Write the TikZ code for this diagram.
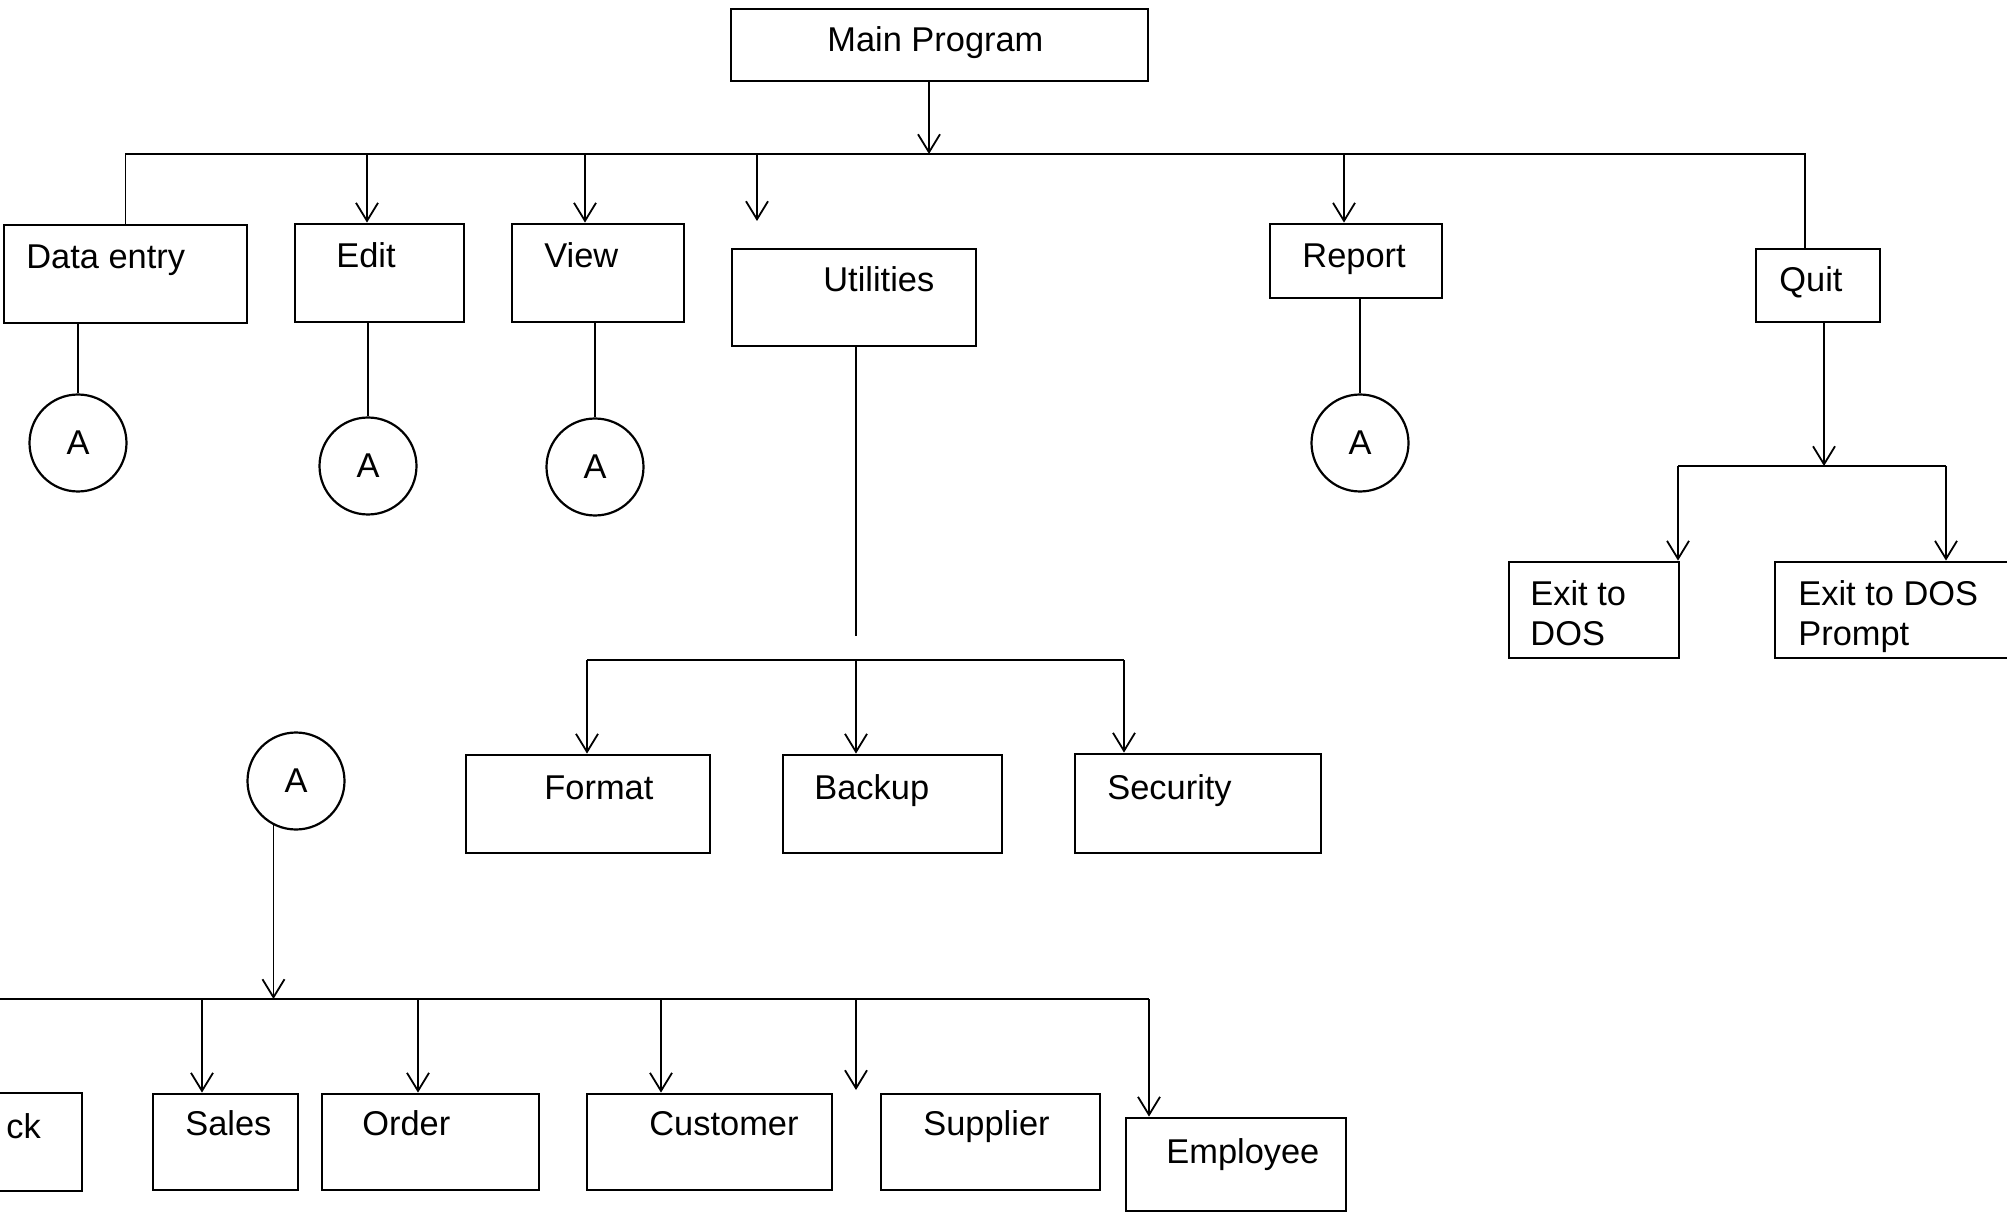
\documentclass[tikz,border=0pt]{standalone}
\usepackage{fontspec}
\setmainfont{Liberation Sans}
\usetikzlibrary{arrows.meta,fit}
\begin{document}
\begin{tikzpicture}[x=0.5pt,y=-0.5pt,
  box/.style={draw, line width=1.4pt, rectangle, inner sep=0pt},
  circ/.style={draw, line width=1.1pt, circle, minimum size=48.5pt, inner sep=0pt, font=\fontsize{17.2}{20}\selectfont},
  txt/.style={inner sep=0pt, font=\fontsize{17.2}{20}\selectfont, align=left},
  conn/.style={line width=0.9pt},
  arr/.style={conn, -{Straight Barb[length=9pt,width=11pt]}}]
\useasboundingbox (0,0) rectangle (2007,1213);
\clip (0,0) rectangle (2007,1213);
% boxes
\node[box, fit={(731,9) (1148,81)}] (main) {};
\node[box, fit={(4,225) (247,323)}] (dataentry) {};
\node[box, fit={(295,224) (464,322)}] (edit) {};
\node[box, fit={(512,224) (684,322)}] (view) {};
\node[box, fit={(732,249) (976,346)}] (utilities) {};
\node[box, fit={(1270,224) (1442,298)}] (report) {};
\node[box, fit={(1756,249) (1880,322)}] (quit) {};
\node[box, fit={(1509,562) (1679,658)}] (exit1) {};
\node[box, fit={(1775,562) (2100,658)}] (exit2) {};
\node[box, fit={(466,755) (710,853)}] (format) {};
\node[box, fit={(783,755) (1002,853)}] (backup) {};
\node[box, fit={(1075,754) (1321,853)}] (security) {};
\node[box, fit={(-200,1093) (82,1191)}] (stock) {};
\node[box, fit={(153,1094) (298,1190)}] (sales) {};
\node[box, fit={(322,1094) (539,1190)}] (order) {};
\node[box, fit={(587,1094) (832,1190)}] (customer) {};
\node[box, fit={(881,1094) (1100,1190)}] (supplier) {};
\node[box, fit={(1126,1118) (1346,1211)}] (employee) {};
% texts
\node[txt, anchor=base west] (main-t) at (827,52) {Main Program};
\node[txt, anchor=base west] (dataentry-t) at (26,269) {Data entry};
\node[txt, anchor=base west] (edit-t) at (336,268) {Edit};
\node[txt, anchor=base west] (view-t) at (544,268) {View};
\node[txt, anchor=base west] (utilities-t) at (823,292) {Utilities};
\node[txt, anchor=base west] (report-t) at (1302,268) {Report};
\node[txt, anchor=base west] (quit-t) at (1779,292) {Quit};
\node[txt, anchor=north west] (exit1-t) at (1530,580) {Exit to\\DOS};
\node[txt, anchor=north west] (exit2-t) at (1798,580) {Exit to DOS\\Prompt};
\node[txt, anchor=base west] (format-t) at (544,799) {Format};
\node[txt, anchor=base west] (backup-t) at (814,799) {Backup};
\node[txt, anchor=base west] (security-t) at (1107,799) {Security};
\node[txt, anchor=base west] (stock-t) at (6,1138) {ck};
\node[txt, anchor=base west] (sales-t) at (185,1135) {Sales};
\node[txt, anchor=base west] (order-t) at (362,1135) {Order};
\node[txt, anchor=base west] (customer-t) at (649,1135) {Customer};
\node[txt, anchor=base west] (supplier-t) at (923,1135) {Supplier};
\node[txt, anchor=base west] (employee-t) at (1166,1163) {Employee};
% connector circles
\node[circ] (cDE) at (78,443) {A};
\node[circ] (cEd) at (368,466) {A};
\node[circ] (cVi) at (595,467) {A};
\node[circ] (cRe) at (1360,443) {A};
\node[circ] (cA) at (296,781) {A};
% main bus
\coordinate (bus1) at (929,154);
\coordinate (tQuit) at (1805,154);
\coordinate (tEdit) at (367,154);
\coordinate (tView) at (585,154);
\coordinate (tUtil) at (757,154);
\coordinate (uArr) at (757,221);
\coordinate (tRep) at (1344,154);
\draw[arr] (bus1 |- main.south) -- (bus1);
\draw[conn] (dataentry.north) |- (tQuit) -- (tQuit |- quit.north);
\draw[arr] (tEdit) -- (tEdit |- edit.north);
\draw[arr] (tView) -- (tView |- view.north);
\draw[arr] (tUtil) -- (uArr);
\draw[arr] (tRep) -- (tRep |- report.north);
% boxes to circles
\draw[conn] (cDE.north |- dataentry.south) -- (cDE.north);
\draw[conn] (cEd.north |- edit.south) -- (cEd.north);
\draw[conn] (cVi.north |- view.south) -- (cVi.north);
\draw[conn] (cRe.north |- report.south) -- (cRe.north);
% utilities
\coordinate (uEnd) at (856,636);
\draw[conn] (uEnd |- utilities.south) -- (uEnd);
\coordinate (tFor) at (587,660);
\coordinate (tBak) at (856,660);
\coordinate (tSec) at (1124,660);
\draw[conn] (tFor) -- (tSec);
\draw[arr] (tFor) -- (tFor |- format.north);
\draw[arr] (tBak) -- (tBak |- backup.north);
\draw[arr] (tSec) -- (tSec |- security.north);
% quit
\coordinate (tQ) at (1824,466);
\coordinate (tE1) at (1678,466);
\coordinate (tE2) at (1946,466);
\draw[arr] (tQ |- quit.south) -- (tQ);
\draw[conn] (tE1) -- (tE2);
\draw[arr] (tE1) -- (tE1 |- exit1.north);
\draw[arr] (tE2) -- (tE2 |- exit2.north);
% lower bus
\coordinate (b4L) at (0,999);
\coordinate (b4R) at (1149,999);
\coordinate (tSal) at (202,999);
\coordinate (tOrd) at (418,999);
\coordinate (tCus) at (661,999);
\coordinate (tX) at (856,999);
\coordinate (xEnd) at (856,1090);
\draw[arr] (cA.243) -- (cA.243 |- b4L);
\draw[conn] (b4L) -- (b4R);
\draw[arr] (b4R) -- (b4R |- employee.north);
\draw[arr] (tSal) -- (tSal |- sales.north);
\draw[arr] (tOrd) -- (tOrd |- order.north);
\draw[arr] (tCus) -- (tCus |- customer.north);
\draw[arr] (tX) -- (xEnd);
\end{tikzpicture}
\end{document}
